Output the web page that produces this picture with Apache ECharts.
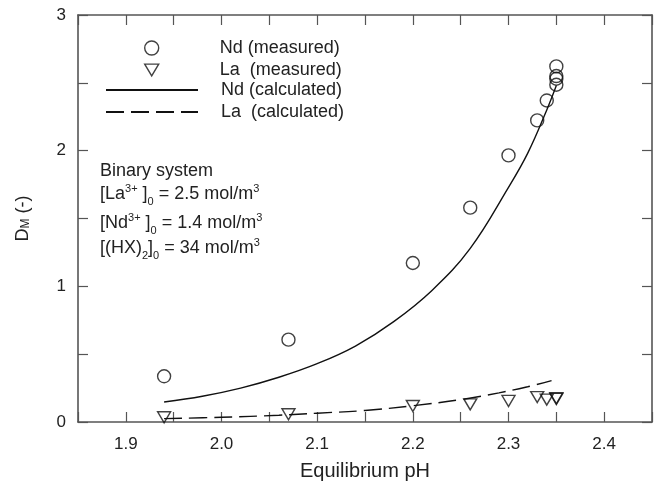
<!DOCTYPE html>
<html>
<head>
<meta charset="utf-8">
<script src="https://cdn.jsdelivr.net/npm/echarts@6/dist/echarts.min.js"></script>
<style>html,body{margin:0;padding:0;background:#fff}#c{width:656px;height:483px}</style>
</head>
<body>
<div id="c"></div>
<script>
// Measured data
var ndMeasuredPH = [1.94, 2.07, 2.20, 2.26, 2.30, 2.33, 2.34, 2.35, 2.35, 2.35, 2.35];
var ndMeasuredD  = [0.337, 0.607, 1.172, 1.58, 1.965, 2.223, 2.37, 2.486, 2.53, 2.55, 2.621];
var laMeasuredPH = [1.94, 2.07, 2.20, 2.26, 2.30, 2.33, 2.34, 2.35, 2.35];
var laMeasuredD  = [0.035, 0.057, 0.118, 0.13, 0.155, 0.184, 0.165, 0.175, 0.17];
// Calculated curves
var ndCalcPH = [1.94, 1.98, 2.02, 2.06, 2.10, 2.14, 2.18, 2.22, 2.26, 2.30, 2.32, 2.34, 2.35];
var ndCalcD  = [0.147, 0.19, 0.25, 0.33, 0.43, 0.56, 0.74, 0.97, 1.28, 1.73, 1.98, 2.30, 2.48];
var laCalcPH = [1.94, 2.00, 2.06, 2.10, 2.15, 2.20, 2.25, 2.29, 2.32, 2.345];
var laCalcD  = [0.025, 0.035, 0.05, 0.065, 0.085, 0.12, 0.165, 0.215, 0.26, 0.305];
var xTickLabels = ['1.9', '2.0', '2.1', '2.2', '2.3', '2.4'];
var yTickLabels = ['0', '1', '2', '3'];
var annotationLines = [
  '{t|Binary system}',
  '{t|[La}{sup|3+}{t| ]}{sub|0}{t| = 2.5 mol/m}{sup|3}',
  '{t|[Nd}{sup|3+}{t| ]}{sub|0}{t| = 1.4 mol/m}{sup|3}',
  '{t|[(HX)}{sub|2}{t|]}{sub|0}{t| = 34 mol/m}{sup|3}'
];

function zip(a, b) { return a.map(function (v, i) { return [v, b[i]]; }); }

var chart = echarts.init(document.getElementById('c'), null, {renderer: 'canvas'});
var axisCol = '#555';
var txt = '#222';
var font = 'Liberation Sans, Arial, sans-serif';

function tickAxisCommon() {
  return {
    axisLine: {onZero: false, lineStyle: {color: axisCol, width: 1.6}},
    axisTick: {inside: true, length: 10, lineStyle: {color: axisCol, width: 1.2}},
    splitLine: {show: false}
  };
}

var annRich = {
  t: {fontSize: 18, fontFamily: font, fill: txt, lineHeight: 26, verticalAlign: 'middle'},
  sup: {fontSize: 11, fontFamily: font, fill: txt, lineHeight: 26, verticalAlign: 'top', padding: [2, 0, 0, 0]},
  sub: {fontSize: 11, fontFamily: font, fill: txt, lineHeight: 26, verticalAlign: 'bottom', padding: [0, 0, 0, 0]}
};
var annY = [171.5, 194, 223, 248.5];
var annGraphics = annotationLines.map(function (s, i) {
  return {
    type: 'text', x: 100, y: annY[i],
    style: {text: s, fill: txt, verticalAlign: 'middle', align: 'left', rich: annRich}
  };
});

var option = {
  animation: false,
  backgroundColor: '#fff',
  textStyle: {fontFamily: font},
  grid: {left: 78, right: 4, top: 15, bottom: 61, containLabel: false, outerBoundsMode: 'none'},
  legend: [
    {
      left: 144, top: 39, padding: 0, orient: 'vertical', itemWidth: 14, itemHeight: 14, itemGap: 4,
      data: [
        {name: 'Nd (measured)', icon: 'circle'},
        {name: 'La  (measured)', icon: 'path://M0,0 L12,0 L6,10 Z'}
      ],
      itemStyle: {color: 'rgba(255,255,255,0)', borderColor: '#111', borderWidth: 1.4},
      textStyle: {fontSize: 18, color: txt, fontFamily: font, padding: [0, 0, 0, 56]},
      selectedMode: false
    },
    {
      left: 105, top: 81, padding: 0, orient: 'vertical', itemWidth: 92, itemHeight: 14, itemGap: 4,
      data: [{name: 'Nd (calculated)'}, {name: 'La  (calculated)'}],
      itemStyle: {color: 'rgba(0,0,0,0)', borderWidth: 0, opacity: 0},
      textStyle: {fontSize: 18, color: txt, fontFamily: font, padding: [0, 0, 0, 18]},
      selectedMode: false
    }
  ],
  xAxis: [
    Object.assign(tickAxisCommon(), {
      type: 'value', min: 1.85, max: 2.45, interval: 0.05, position: 'bottom',
      name: 'Equilibrium pH', nameLocation: 'middle', nameGap: 39,
      nameTextStyle: {fontSize: 20, color: txt, fontFamily: font},
      axisLabel: {
        fontSize: 17, color: txt, margin: 14, fontFamily: font,
        formatter: function (v) {
          var s = v.toFixed(1);
          return (Math.abs(v * 10 - Math.round(v * 10)) < 1e-6 && xTickLabels.indexOf(s) >= 0) ? s : '';
        }
      }
    }),
    Object.assign(tickAxisCommon(), {
      type: 'value', min: 1.85, max: 2.45, interval: 0.05, position: 'top',
      axisLabel: {show: false}
    })
  ],
  yAxis: [
    Object.assign(tickAxisCommon(), {
      type: 'value', min: 0, max: 3, interval: 0.5, position: 'left',
      name: '{a|D}{s|M}{a| (-)}', nameLocation: 'middle', nameGap: 46, nameRotate: 90,
      nameTextStyle: {
        color: txt, fontFamily: font,
        rich: {
          a: {fontSize: 18, color: txt, fontFamily: font, verticalAlign: 'bottom', lineHeight: 22},
          s: {fontSize: 12, color: txt, fontFamily: font, verticalAlign: 'bottom', lineHeight: 16}
        }
      },
      axisLabel: {
        fontSize: 17, color: txt, margin: 12, fontFamily: font,
        formatter: function (v) {
          var s = String(Math.round(v));
          return (Math.abs(v - Math.round(v)) < 1e-6 && yTickLabels.indexOf(s) >= 0) ? s : '';
        }
      }
    }),
    Object.assign(tickAxisCommon(), {
      type: 'value', min: 0, max: 3, interval: 0.5, position: 'right',
      axisLabel: {show: false}
    })
  ],
  graphic: annGraphics,
  series: [
    {
      name: 'Nd (measured)', type: 'scatter', data: zip(ndMeasuredPH, ndMeasuredD),
      symbol: 'circle', symbolSize: 13,
      itemStyle: {color: 'rgba(255,255,255,0)', borderColor: '#111', borderWidth: 1.4},
      z: 5
    },
    {
      name: 'La  (measured)', type: 'scatter', data: zip(laMeasuredPH, laMeasuredD),
      symbol: 'triangle', symbolRotate: 180, symbolSize: [13, 11],
      itemStyle: {color: 'rgba(255,255,255,0)', borderColor: '#111', borderWidth: 1.4},
      z: 5
    },
    {
      name: 'Nd (calculated)', type: 'line', data: zip(ndCalcPH, ndCalcD),
      smooth: 0.4, symbol: 'none',
      lineStyle: {color: '#111', width: 1.4},
      itemStyle: {color: '#111'}
    },
    {
      name: 'La  (calculated)', type: 'line', data: zip(laCalcPH, laCalcD),
      smooth: 0.4, symbol: 'none',
      lineStyle: {color: '#111', width: 1.4, type: [18, 7]},
      itemStyle: {color: '#111'}
    }
  ]
};
chart.setOption(option);
</script>
</body>
</html>
